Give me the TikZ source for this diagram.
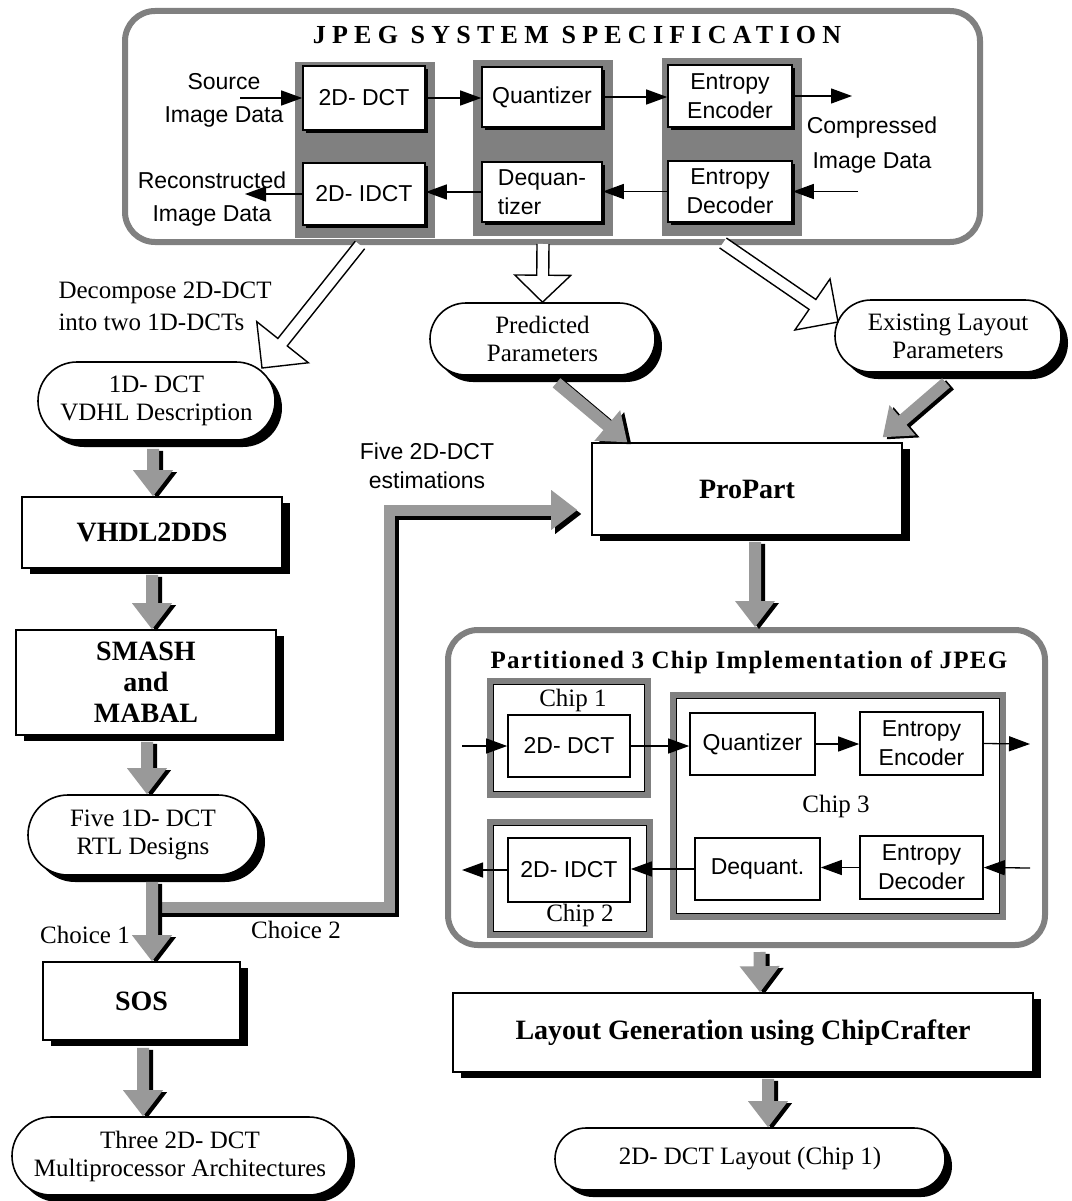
\documentclass[tikz,border=0pt]{standalone}
\usepackage{fontspec}
\setmainfont{Liberation Serif}
\setsansfont{Liberation Sans}
\usetikzlibrary{calc,shapes.misc,shadows,arrows.meta}

\definecolor{stip}{gray}{0.5}
\definecolor{stiparrow}{gray}{0.6}

% shaded flow arrow with a dark edge: start, end
\newcommand\fatarrow[2]{%
  \coordinate (fa) at (#1);
  \coordinate (fb) at (#2);
  \coordinate (fh) at ($(fb)!26pt!(fa)$);
  \begin{scope}[transform canvas={shift={(4pt,-2pt)}}]
    \fill[black] ($(fa)!6pt!90:(fb)$) -- ($(fh)!6pt!90:(fb)$) -- ($(fh)!20pt!90:(fb)$) -- (fb)
      -- ($(fh)!20pt!-90:(fb)$) -- ($(fh)!6pt!-90:(fb)$) -- ($(fa)!6pt!-90:(fb)$) -- cycle;
  \end{scope}
  \fill[stiparrow] ($(fa)!6pt!90:(fb)$) -- ($(fh)!6pt!90:(fb)$) -- ($(fh)!20pt!90:(fb)$) -- (fb)
      -- ($(fh)!20pt!-90:(fb)$) -- ($(fh)!6pt!-90:(fb)$) -- ($(fa)!6pt!-90:(fb)$) -- cycle;
}

% outlined hollow arrow: start, end, half shaft, half head, head length
\newcommand\hollowarrow[5]{%
  \coordinate (ha) at (#1);
  \coordinate (hz) at (#2);
  \coordinate (hh) at ($(hz)!#5!(ha)$);
  \filldraw[fill=white, line width=1.4pt, line join=miter]
    ($(ha)!#3!90:(hz)$) -- ($(hh)!#3!90:(hz)$) -- ($(hh)!#4!90:(hz)$) -- (hz)
    -- ($(hh)!#4!-90:(hz)$) -- ($(hh)!#3!-90:(hz)$) -- ($(ha)!#3!-90:(hz)$);
}

\tikzset{
  txtsans/.style={font=\sffamily\fontsize{23}{29}\selectfont},
  txtserif/.style={font=\fontsize{25}{28}\selectfont},
  txtbold/.style={font=\bfseries\fontsize{28}{31}\selectfont},
  band/.style={fill=stip, draw=none, inner sep=0pt, outer sep=0pt},
  inbox/.style={draw, line width=1.6pt, fill=white, inner sep=0pt, align=center, txtsans,
    drop shadow={shadow xshift=3pt, shadow yshift=-3pt, fill=black, opacity=1}},
  plainbox/.style={draw, line width=1.6pt, fill=white, inner sep=0pt, align=center, txtsans},
  bigbox/.style={draw, line width=1.6pt, fill=white, inner sep=0pt, align=center, txtbold,
    drop shadow={shadow xshift=8pt, shadow yshift=-6pt, fill=black, opacity=1}},
  pill/.style={rounded rectangle, draw, line width=1.6pt, fill=white, inner sep=0pt, align=center, txtserif,
    drop shadow={shadow xshift=7pt, shadow yshift=-7pt, fill=black, opacity=1}},
  chipframe/.style={draw=stip, line width=6pt, inner sep=0pt, outer sep=0pt},
  flow/.style={line width=1.3pt, -{Triangle[length=21pt,width=15pt]}},
  lbl/.style={txtsans, align=center},
}

\begin{document}
\begin{tikzpicture}[x=1pt, y=-1pt]
\fill[white] (0,0) rectangle (1071,1201);
\useasboundingbox (0,0) rectangle (1071,1201);

% ---------------- JPEG system specification ----------------
\node[draw=stip, line width=6pt, rounded corners=30pt, minimum width=855pt, minimum height=231pt, inner sep=0pt] (spec) at (552.5,126.5) {};
\node[font=\bfseries\fontsize{26}{30}\selectfont\addfontfeature{LetterSpace=24}] (spectitle) at (577,35) {JPEG SYSTEM SPECIFICATION};

\node[band, minimum width=140pt, minimum height=176pt] (col1) at (365,150) {};
\node[band, minimum width=140pt, minimum height=176pt] (col2) at (543,148) {};
\node[band, minimum width=140pt, minimum height=178pt] (col3) at (732,147) {};

\node[inbox, minimum width=122pt, minimum height=64pt] (dct) at (364,98) {2D- DCT};
\node[inbox, minimum width=122pt, minimum height=62pt] (idct) at (364,194) {2D- IDCT};
\node[inbox, minimum width=120pt, minimum height=60pt] (quant) at (542,97) {Quantizer};
\node[inbox, minimum width=120pt, minimum height=60pt, align=left] (dequant) at (542,192) {Dequan-\\tizer};
\node[inbox, minimum width=124pt, minimum height=62pt] (enc) at (730,96) {Entropy\\Encoder};
\node[inbox, minimum width=124pt, minimum height=61pt] (dec) at (730,191.5) {Entropy\\Decoder};

\node[lbl, font=\sffamily\fontsize{23}{33}\selectfont] (srclbl) at (224,100) {Source\\Image Data};
\node[lbl, font=\sffamily\fontsize{23}{33}\selectfont] (reclbl) at (212,199) {Reconstructed\\Image Data};
\node[lbl, font=\sffamily\fontsize{23}{35}\selectfont] (cmplbl) at (872,145) {Compressed\\Image Data};

\coordinate (srcin) at (240,98);
\coordinate (cmpout) at (852,96);
\coordinate (cmpin) at (858,191.5);
\coordinate (recout) at (245,194);

\draw[flow] (srcin) -- (dct.west);
\draw[flow] (dct.east) -- (quant.west |- dct.east);
\draw[flow] (quant.east) -- (enc.west |- quant.east);
\draw[flow] (enc.east) -- (cmpout);
\draw[flow] (cmpin) -- (dec.east);
\draw[flow] (dec.west) -- (dequant.east |- dec.west);
\draw[flow] (dequant.west) -- (idct.east |- dequant.west);
\draw[flow] (idct.west) -- (recout);

% ---------------- derived descriptions ----------------
\node[pill, minimum width=237pt, minimum height=78pt] (oned) at (156.5,401) {1D- DCT\\VDHL Description};
\node[pill, minimum width=225pt, minimum height=72pt] (pred) at (542.5,339) {Predicted\\Parameters};
\node[pill, minimum width=226pt, minimum height=72pt] (exist) at (948,336) {Existing Layout\\Parameters};

\node[txtserif, align=left, anchor=west, font=\fontsize{25}{32}\selectfont] (decomp) at (55,306) {Decompose 2D-DCT\\into two 1D-DCTs};

\coordinate (hAtip) at (262,368);
\coordinate (hCtip) at (838,322);
\hollowarrow{[xshift=-5pt,yshift=-7pt]col1.south}{hAtip}{6pt}{33pt}{33pt}
\hollowarrow{[yshift=-8pt]col2.south}{pred.north}{6pt}{28pt}{27pt}
\hollowarrow{[xshift=-9pt,yshift=-7pt]col3.south}{hCtip}{6pt}{31pt}{31pt}

% ---------------- ProPart ----------------
\node[bigbox, minimum width=310pt, minimum height=92pt] (propart) at (747,489) {ProPart};
\node[lbl] (estlbl) at (427,466) {Five 2D-DCT\\estimations};

% ---------------- left flow ----------------
\node[bigbox, minimum width=260pt, minimum height=71pt] (vhdl) at (152,532.5) {VHDL2DDS};
\node[bigbox, minimum width=260pt, minimum height=105pt] (smash) at (146,682.5) {SMASH\\and\\MABAL};
\node[pill, minimum width=230pt, minimum height=80pt] (five) at (143,835) {Five 1D- DCT\\RTL Designs};
\node[bigbox, minimum width=197pt, minimum height=78pt] (sos) at (141.5,1001) {SOS};
\node[pill, minimum width=336pt, minimum height=78pt] (three) at (180,1156) {Three 2D- DCT\\Multiprocessor Architectures};

\node[txtserif] (ch1) at (85,935) {Choice 1};
\node[txtserif] (ch2) at (296,930) {Choice 2};

% second choice: estimations routed to ProPart
\coordinate (split) at (152,907);
\coordinate (turn) at (389,510);
\coordinate (c2tip) at ([xshift=-14pt,yshift=-21pt]propart.west);
\coordinate (c2h) at ($(c2tip)!26pt!(turn)$);
\begin{scope}[transform canvas={shift={(4pt,-4pt)}}]
  \draw[black, line width=11pt] (split) -| (turn) -- (c2h);
  \fill[black] ($(c2h)!20pt!90:(c2tip)$) -- (c2tip) -- ($(c2h)!20pt!-90:(c2tip)$) -- cycle;
\end{scope}
\draw[stiparrow, line width=11pt] (split) -| (turn) -- (c2h);
\fill[stiparrow] ($(c2h)!20pt!90:(c2tip)$) -- (c2tip) -- ($(c2h)!20pt!-90:(c2tip)$) -- cycle;

\fatarrow{[xshift=-3.5pt,yshift=-8pt]oned.south}{[xshift=1pt]vhdl.north}
\fatarrow{[yshift=-6pt]vhdl.south}{[xshift=6pt]smash.north}
\fatarrow{[xshift=1pt,yshift=-6pt]smash.south}{[xshift=4pt]five.north}
\fatarrow{[xshift=9pt,yshift=-6pt]five.south}{[xshift=10.5pt]sos.north}
\fatarrow{[xshift=1.5pt,yshift=-7pt]sos.south}{[xshift=-37pt]three.north}

\fatarrow{[xshift=14pt,yshift=-7pt]pred.south}{[xshift=36pt]propart.north west}
\fatarrow{[xshift=-2pt,yshift=-10pt]exist.south}{[xshift=-20pt,yshift=5pt]propart.north east}

% ---------------- partitioned implementation ----------------
\node[draw=stip, line width=6pt, rounded corners=30pt, minimum width=597pt, minimum height=315pt, inner sep=0pt] (part) at (746.5,787.5) {};
\node[font=\bfseries\fontsize{25}{29}\selectfont\addfontfeature{LetterSpace=5}] (parttitle) at (749,662) {Partitioned 3 Chip Implementation of JPEG};

\node[chipframe, minimum width=158pt, minimum height=114pt] (chip1) at (569,738) {};
\node[chipframe, minimum width=160pt, minimum height=113pt] (chip2) at (570,878.5) {};
\node[chipframe, minimum width=330pt, minimum height=222pt] (chip3) at (838,806) {};
\foreach \c in {chip1,chip2,chip3}
  \draw[line width=1pt] ($(\c.south west)+(3.5,-3.5)$) rectangle ($(\c.north east)+(-3.5,3.5)$);

\node[txtserif] (chip1lbl) at (573,700) {Chip 1};
\node[txtserif] (chip2lbl) at (580,915) {Chip 2};
\node[txtserif] (chip3lbl) at (836,806) {Chip 3};

\node[plainbox, minimum width=122pt, minimum height=62pt] (pdct) at (569,746) {2D- DCT};
\node[plainbox, minimum width=125pt, minimum height=62pt] (pquant) at (752.5,744) {Quantizer};
\node[plainbox, minimum width=123pt, minimum height=63pt] (penc) at (921.5,743.5) {Entropy\\Encoder};
\node[plainbox, minimum width=122pt, minimum height=64pt] (pidct) at (569,870) {2D- IDCT};
\node[plainbox, minimum width=125pt, minimum height=62pt] (pdeq) at (757.5,869) {Dequant.};
\node[plainbox, minimum width=123pt, minimum height=63pt] (pdec) at (921.5,867.5) {Entropy\\Decoder};

\coordinate (pin) at (462,746);
\coordinate (pout) at (1030,744);
\coordinate (pin2) at (1030,868);
\coordinate (pout2) at (462,870);
\draw[flow] (pin) -- (pdct.west);
\draw[flow] (pdct.east) -- (pquant.west |- pdct.east);
\draw[flow] (pquant.east) -- (penc.west |- pquant.east);
\draw[flow] (penc.east) -- (pout);
\draw[flow] (pin2) -- (pdec.east);
\draw[flow] (pdec.west) -- (pdeq.east |- pdec.west);
\draw[flow] (pdeq.west) -- (pidct.east |- pdeq.west);
\draw[flow] (pidct.west) -- (pout2);

\fatarrow{[xshift=8pt,yshift=-6pt]propart.south}{[xshift=8.5pt]part.north}

% ---------------- layout generation ----------------
\node[bigbox, minimum width=580pt, minimum height=79pt] (lgen) at (743,1032.5) {Layout Generation using ChipCrafter};
\node[pill, minimum width=390pt, minimum height=62pt] (lpill) at (750,1159) {2D- DCT Layout (Chip 1)};

\fatarrow{[xshift=13pt,yshift=-4pt]part.south}{[xshift=17pt]lgen.north}
\fatarrow{[xshift=25pt,yshift=-6pt]lgen.south}{[xshift=18pt]lpill.north}

\end{tikzpicture}
\end{document}
